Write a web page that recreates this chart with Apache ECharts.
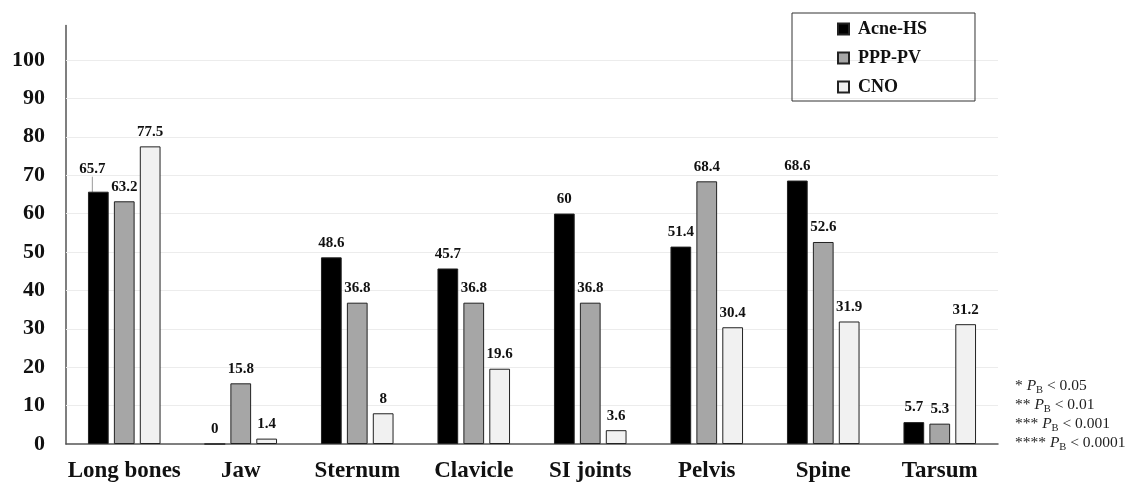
<!DOCTYPE html>
<html>
<head>
<meta charset="utf-8">
<script src="https://cdn.jsdelivr.net/npm/echarts@6/dist/echarts.min.js"></script>
<style>
  html, body { margin: 0; padding: 0; background: #fff; }
  #chart { width: 1128px; height: 485px; }
</style>
</head>
<body>
<div id="chart"></div>
<script>
// Sites of bone involvement (%) by patient group
const categories = ['Long bones', 'Jaw', 'Sternum', 'Clavicle', 'SI joints', 'Pelvis', 'Spine', 'Tarsum'];
const acneHS = [65.7, 0, 48.6, 45.7, 60, 51.4, 68.6, 5.7];
const pppPV  = [63.2, 15.8, 36.8, 36.8, 36.8, 68.4, 52.6, 5.3];
const cno    = [77.5, 1.4, 8, 19.6, 3.6, 30.4, 31.9, 31.2];
const gridValues = [10, 20, 30, 40, 50, 60, 70, 80, 90, 100];
const footnotes = [
  ['*', '0.05'],
  ['**', '0.01'],
  ['***', '0.001'],
  ['****', '0.0001']
];

const SERIF = '"Liberation Serif", "Times New Roman", serif';

function barSeries(name, data, fill) {
  return {
    name: name,
    type: 'bar',
    data: data,
    barWidth: '17.8%',
    barGap: '25%',
    z: 2,
    itemStyle: { color: fill, borderColor: '#222', borderWidth: 1 },
    label: {
      show: true,
      position: 'top',
      distance: 7,
      color: '#111',
      fontFamily: SERIF,
      fontWeight: 'bold',
      fontSize: 15
    },
    labelLine: { show: false }
  };
}

// the first Acne-HS label is lifted off its bar with a short leader line
const acneData = acneHS.map((v, i) => i === 0
  ? { value: v, labelLine: { show: true, lineStyle: { color: '#9a9a9a', width: 1 } } }
  : v);

const s1 = barSeries('Acne-HS', acneData, '#000000');
s1.labelLayout = function (p) {
  if (p.dataIndex === 0) return { dx: -6, dy: -8 };
  return {};
};
// horizontal guide lines at the labelled values
s1.markLine = {
  silent: true,
  z: 1,
  symbol: ['none', 'none'],
  label: { show: false },
  lineStyle: { color: '#ececec', width: 1, type: 'solid' },
  data: gridValues.map(v => ({ yAxis: v }))
};

const s2 = barSeries('PPP-PV', pppPV, '#a6a6a6');
const s3 = barSeries('CNO', cno, '#f1f1f1');

const noteText = footnotes
  .map(f => '{a|' + f[0] + ' }{p|P}{s|B}{a| < ' + f[1] + '}')
  .join('\n');

const option = {
  animation: false,
  backgroundColor: '#ffffff',
  grid: { left: 66, right: 130, top: 25.4, bottom: 41 },
  legend: {
    orient: 'vertical',
    left: 792,
    top: 13,
    padding: [7, 48, 5, 45],
    itemGap: 11,
    itemWidth: 11,
    itemHeight: 11,
    borderColor: '#333',
    borderWidth: 1,
    icon: 'rect',
    textStyle: {
      fontFamily: SERIF,
      fontWeight: 'bold',
      fontSize: 18,
      lineHeight: 18,
      color: '#111',
      padding: [0, 0, 0, 4]
    },
    data: ['Acne-HS', 'PPP-PV', 'CNO']
  },
  xAxis: {
    type: 'category',
    data: categories,
    axisLine: { lineStyle: { color: '#555', width: 1.5 } },
    axisTick: { show: false },
    axisLabel: {
      interval: 0,
      margin: 16,
      fontFamily: SERIF,
      fontWeight: 'bold',
      fontSize: 23,
      color: '#111'
    }
  },
  yAxis: {
    type: 'value',
    min: 0,
    max: 109,
    interval: 10,
    axisLine: { show: true, lineStyle: { color: '#555', width: 1.5 } },
    axisTick: { show: false },
    splitLine: { show: false },
    axisLabel: {
      margin: 21,
      showMaxLabel: false,
      fontFamily: SERIF,
      fontWeight: 'bold',
      fontSize: 22,
      color: '#111'
    }
  },
  graphic: [{
    type: 'text',
    left: 1015,
    top: 376,
    style: {
      text: noteText,
      fontFamily: SERIF,
      fontSize: 15.5,
      lineHeight: 19,
      fill: '#222',
      rich: {
        a: { fontFamily: SERIF, fontSize: 15.5, lineHeight: 19, fill: '#222' },
        p: { fontFamily: SERIF, fontSize: 15.5, fontStyle: 'italic', lineHeight: 19, fill: '#222' },
        s: { fontFamily: SERIF, fontSize: 10.5, lineHeight: 19, padding: [9, 0, 0, 0], fill: '#222' }
      }
    }
  }],
  series: [s1, s2, s3]
};

const chart = echarts.init(document.getElementById('chart'), null, { renderer: 'canvas' });
chart.setOption(option);
</script>
</body>
</html>
